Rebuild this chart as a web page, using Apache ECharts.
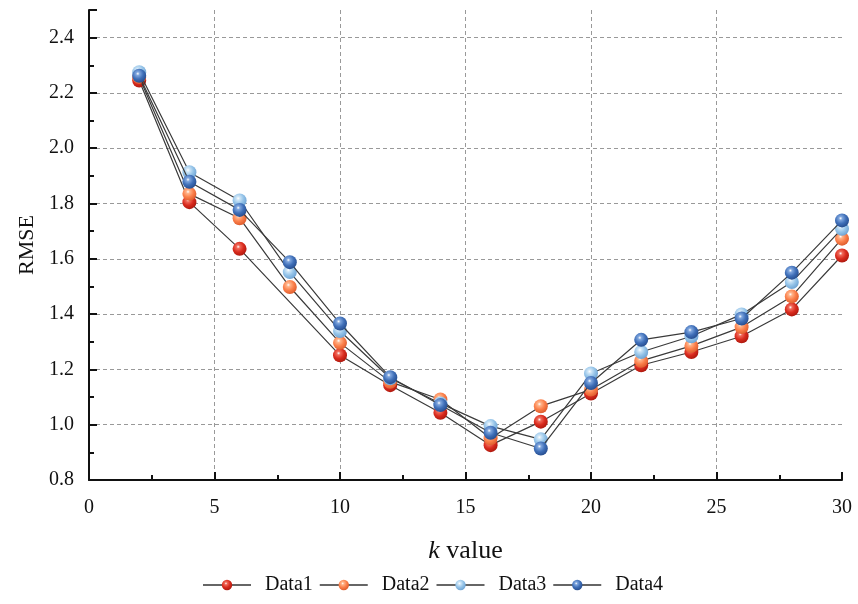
<!DOCTYPE html>
<html>
<head>
<meta charset="utf-8">
<script src="https://cdn.jsdelivr.net/npm/echarts@6/dist/echarts.min.js"></script>
<style>html,body{margin:0;padding:0;background:#fff}#c{width:858px;height:604px}</style>
</head>
<body>
<div id="c"></div>
<script>
var seriesNames = ['Data1', 'Data2', 'Data3', 'Data4'];
var kValues = [2, 4, 6, 8, 10, 12, 14, 16, 18, 20, 22, 24, 26, 28, 30];
// null = point not shown in the reference
var data1 = [2.245, 1.805, 1.636, null, 1.251, 1.143, 1.043, 0.926, 1.011, 1.113, 1.215, 1.263, 1.320, 1.417, 1.612];
var data2 = [2.258, 1.835, 1.747, 1.498, 1.296, 1.155, 1.091, 0.951, 1.067, 1.127, 1.231, 1.285, 1.353, 1.464, 1.673];
var data3 = [2.275, 1.913, 1.811, 1.552, 1.339, 1.168, 1.077, 0.995, 0.947, 1.185, 1.263, 1.320, 1.399, 1.516, 1.709];
var data4 = [2.262, 1.879, 1.777, 1.588, 1.366, 1.172, 1.071, 0.971, 0.914, 1.151, 1.307, 1.335, 1.384, 1.550, 1.739];
var xTicks = { min: 0, max: 30, interval: 5 };
var yTicks = { min: 0.8, max: 2.5, interval: 0.2 };

var colors = [
  ['#f06a5a', '#d92b1e', '#a8160c'],
  ['#ffb48a', '#fb7f4a', '#d9582a'],
  ['#cfe6f7', '#94c3e8', '#6a9fd0'],
  ['#7fa6de', '#3f6fb8', '#23498a']
];
function ball(c) {
  return {
    type: 'radial', x: 0.4, y: 0.35, r: 0.7,
    colorStops: [
      { offset: 0, color: '#ffffff' },
      { offset: 0.18, color: c[0] },
      { offset: 0.55, color: c[1] },
      { offset: 1, color: c[2] }
    ]
  };
}
var all = [data1, data2, data3, data4];
var font = 'Liberation Serif, Times New Roman, serif';
var series = all.map(function (arr, i) {
  var pts = [];
  kValues.forEach(function (k, j) { if (arr[j] != null) pts.push([k, arr[j]]); });
  return {
    name: seriesNames[i],
    type: 'line',
    data: pts,
    symbol: 'circle',
    symbolSize: 14,
    lineStyle: { color: '#3a3a3a', width: 1.2 },
    itemStyle: { color: ball(colors[i]), borderWidth: 0 },
    z: 2 + i
  };
});

var chart = echarts.init(document.getElementById('c'), null, { renderer: 'canvas' });
chart.setOption({
  animation: false,
  grid: { left: 89, right: 16, top: 10, bottom: 124 },
  legend: {
    bottom: 4,
    left: 197,
    itemWidth: 48,
    itemHeight: 13,
    itemGap: 6,
    textStyle: { fontFamily: font, fontSize: 20, color: '#111', padding: [0, 0, 0, 9] },
    data: seriesNames.map(function (n, i) {
      return { name: n, itemStyle: { color: ball(colors[i]) }, lineStyle: { color: '#666', width: 2 } };
    })
  },
  xAxis: {
    type: 'value',
    min: xTicks.min, max: xTicks.max, interval: xTicks.interval,
    name: '{i|k} value',
    nameLocation: 'middle',
    nameGap: 58,
    nameTextStyle: { fontFamily: font, fontSize: 26, color: '#111',
      rich: { i: { fontFamily: font, fontStyle: 'italic', fontSize: 26, color: '#111' } } },
    axisLine: { show: true, lineStyle: { color: '#111', width: 2 } },
    axisTick: { show: true, inside: true, length: 8, lineStyle: { color: '#111', width: 2 } },
    minorTick: { show: true, splitNumber: 2, length: 5, lineStyle: { color: '#111', width: 2 } },
    axisLabel: { fontFamily: font, fontSize: 20, color: '#111', margin: 18 },
    splitLine: { show: true, showMinLine: false, showMaxLine: false, lineStyle: { color: '#999', type: [4, 3], width: 1 } }
  },
  yAxis: {
    type: 'value',
    min: yTicks.min, max: yTicks.max, interval: yTicks.interval,
    name: 'RMSE',
    nameLocation: 'middle',
    nameGap: 50,
    nameTextStyle: { fontFamily: font, fontSize: 22, color: '#111' },
    axisLine: { show: true, lineStyle: { color: '#111', width: 2 } },
    axisTick: { show: true, inside: true, length: 8, lineStyle: { color: '#111', width: 2 } },
    minorTick: { show: true, splitNumber: 2, length: 5, lineStyle: { color: '#111', width: 2 } },
    axisLabel: { fontFamily: font, fontSize: 20, color: '#111', margin: 15, showMaxLabel: false,
      formatter: function (v) { return v.toFixed(1); } },
    splitLine: { show: true, showMinLine: false, showMaxLine: false, lineStyle: { color: '#999', type: [4, 3], width: 1 } }
  },
  series: series
});
</script>
</body>
</html>
